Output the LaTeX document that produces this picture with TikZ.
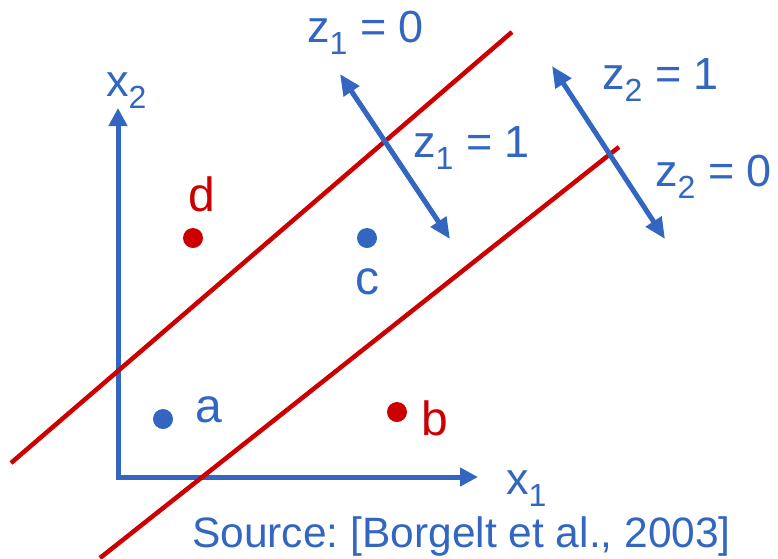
\documentclass[tikz,border=0pt]{standalone}
\usepackage{fontspec}
\setmainfont{Liberation Sans}
\usetikzlibrary{arrows.meta}
\definecolor{myblue}{RGB}{50,102,192}
\definecolor{myred}{RGB}{204,0,0}
\newcommand\lbl{\fontsize{45}{50}\selectfont}
\newcommand\ptlbl{\fontsize{48}{54}\selectfont}
\newcommand\sbs[1]{\raisebox{-12pt}{\fontsize{32}{32}\selectfont #1}}
\begin{document}
\frenchspacing
\begin{tikzpicture}[x=1pt,y=-1pt,
  axisline/.style={draw=myblue,line width=5pt,line join=miter,
    {Triangle[length=18pt,width=18pt]}-{Triangle[length=18pt,width=18pt]}},
  sepline/.style={draw=myred,line width=4.5pt},
  dblarrow/.style={draw=myblue,line width=5pt,
    {Triangle[length=21pt,width=18pt]}-{Triangle[length=21pt,width=18pt]}},
  dot/.style={circle,inner sep=0pt,minimum size=20pt},
  txt/.style={inner sep=0pt,font=\lbl,anchor=base west},
  ptxt/.style={inner sep=0pt,font=\ptlbl,anchor=base}]
\useasboundingbox (0,0) rectangle (778,558);
% axes
\coordinate (O) at (118,477);
\coordinate (Ytip) at (118,108);
\coordinate (Xtip) at (478,477);
\draw[axisline] (Ytip) -- (O) -- (Xtip);
\node[txt,text=myblue] (x2) at (106,96) {x\sbs{2}};
\node[txt,text=myblue] (x1) at (506,494) {x\sbs{1}};
% separating lines
\coordinate (L1a) at (11,463);
\coordinate (L1b) at (512,32);
\coordinate (L2a) at (100,558);
\coordinate (L2b) at (619,147);
\draw[sepline] (L1a) -- (L1b);
\draw[sepline] (L2a) -- (L2b);
% normal arrows
\coordinate (Z1a) at (340,74);
\coordinate (Z1b) at (450,239);
\coordinate (Z2a) at (552,66);
\coordinate (Z2b) at (665,239);
\draw[dblarrow] (Z1a) -- (Z1b);
\draw[dblarrow] (Z2a) -- (Z2b);
\node[txt,text=myblue] (z10) at (307,42) {z\sbs{1} = 0};
\node[txt,text=myblue] (z11) at (413,157) {z\sbs{1} = 1};
\node[txt,text=myblue] (z21) at (602,89) {z\sbs{2} = 1};
\node[txt,text=myblue] (z20) at (655,186) {z\sbs{2} = 0};
% points
\node[dot,fill=myred] (d) at (193,238) {};
\node[dot,fill=myblue] (c) at (367,238) {};
\node[dot,fill=myblue] (a) at (163,419) {};
\node[dot,fill=myred] (b) at (397,412) {};
\node[ptxt,text=myred] (dl) at (202,211) {d};
\node[ptxt,text=myblue] (cl) at (367,294) {c};
\node[ptxt,text=myblue] (al) at (209,422) {a};
\node[ptxt,text=myred] (bl) at (435,435) {b};
% source
\node[inner sep=0pt,anchor=base west,text=myblue,font=\fontsize{42.5}{48}\selectfont] (src) at (192,547) {Source: [Borgelt et al., 2003]};
\end{tikzpicture}
\end{document}
